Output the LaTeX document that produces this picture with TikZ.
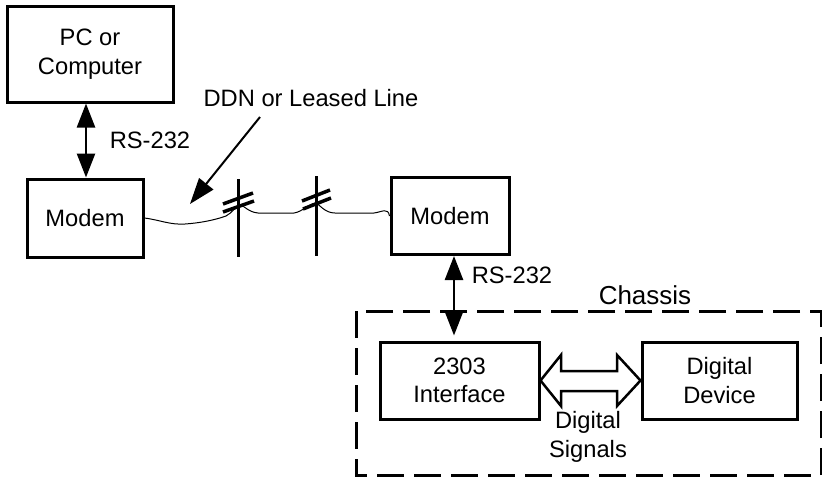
\documentclass[tikz,border=0pt]{standalone}
\usepackage{fontspec}
\setmainfont{Liberation Sans}
\usetikzlibrary{arrows.meta,calc}
\begin{document}
\begin{tikzpicture}[x=1pt,y=-1pt,
  every node/.style={font=\fontsize{23.7}{28.5}\selectfont},
  blk/.style={draw,line width=3pt,align=center,inner sep=0pt},
  arr/.style={line width=2.5pt,{Triangle[length=24pt,width=18pt]}-{Triangle[length=24pt,width=18pt]}},
  pole/.style={line width=3pt},
  slash/.style={line width=3.5pt},
  wire/.style={line width=1pt},
  lbl/.style={align=center,inner sep=0pt}]
\useasboundingbox (0,0) rectangle (822,477);
% boxes
\node[blk,minimum width=166pt,minimum height=96pt] (pc) at (90,54) {PC or\\Computer};
\node[blk,minimum width=116pt,minimum height=78pt] (m1) at (85,218) {Modem};
\node[blk,minimum width=118pt,minimum height=77pt] (m2) at (450,216) {Modem};
\node[blk,minimum width=159pt,minimum height=77pt] (ifc) at (459.5,380.5) {2303\\Interface};
\node[blk,minimum width=155pt,minimum height=77pt] (dd) at (719.5,380.5) {Digital\\Device};
% chassis
\draw[line width=3pt,dash pattern=on 27pt off 10pt] (356,311) rectangle (821,475);
\node[lbl,font=\fontsize{26}{30}\selectfont] (ch) at (645,295) {Chassis};
% labels
\node[lbl] (rs1) at (150,140) {RS-232};
\node[lbl] (rs2) at (512,275) {RS-232};
\node[lbl] (ddn) at (311,98) {DDN or Leased Line};
\node[lbl] (ds) at (588,437) {Digital\\Signals};
% RS-232 arrows
\draw[arr] ([xshift=-4]pc.south) -- ([xshift=1]m1.north);
\draw[arr,shorten >=5pt] ([xshift=4]m2.south) -- ([xshift=-5.5]ifc.north);
% poles
\coordinate (p1t) at (238,179); \coordinate (p1b) at (238,257);
\coordinate (p2t) at (316,176); \coordinate (p2b) at (316,256);
\draw[pole] (p1t) -- (p1b);
\draw[pole] (p2t) -- (p2b);
\draw[slash] (223,204) -- (253,193);
\draw[slash] (223,212) -- (254,201);
\draw[slash] (302,201) -- (330,190);
\draw[slash] (303,209) -- (331,198);
% wire
\draw[wire] (m1.east) .. controls (160,220) and (170,225) .. (185,224)
  .. controls (200,223) and (215,220) .. (226,216)
  .. controls (232,213) and (236,206) .. (240,205)
  .. controls (245,206) and (248,212) .. (258,213)
  -- (294,213)
  .. controls (302,212) and (310,203) .. (316,203)
  .. controls (320,205) and (325,213) .. (335,213)
  -- (374,213)
  .. controls (382,212) and (388,207) .. (m2.west);
% DDN pointer
\coordinate (ddntip) at (190,204);
\draw[line width=2pt,-{Triangle[length=26pt,width=18pt]}] (260,117) -- (ddntip);
% hollow double arrow
\draw[line width=2.5pt,line join=miter]
  (ifc.east) -- (561,355) -- (561,371) -- (617,371) -- (617,355) -- (dd.west)
  -- (617,406) -- (617,391) -- (561,391) -- (561,406) -- cycle;
\end{tikzpicture}
\end{document}
